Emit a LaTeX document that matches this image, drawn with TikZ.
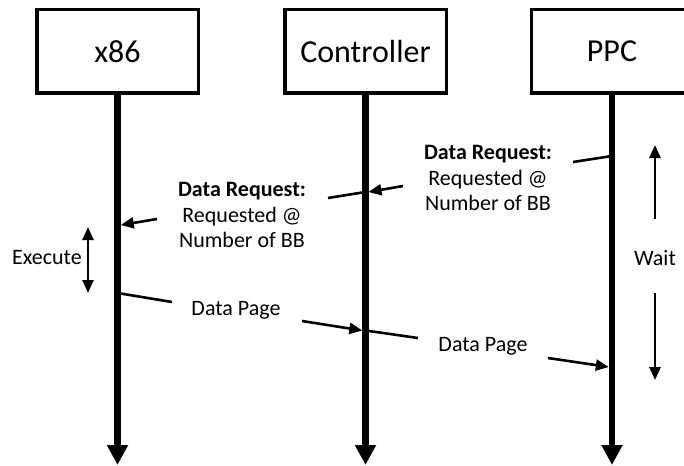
\documentclass[tikz,border=0pt]{standalone}
\usepackage{fontspec}
\setmainfont{Carlito}
\usetikzlibrary{arrows.meta}
\begin{document}
\begin{tikzpicture}[x=1pt,y=-1pt,
  actor/.style={draw,line width=3.5pt,minimum width=161.5pt,minimum height=83.5pt,inner sep=0pt,font=\fontsize{32}{38}\selectfont},
  life/.style={line width=6.5pt,-{Triangle[length=20pt,width=20pt]}},
  msg/.style={line width=2.6pt,-{Triangle[length=13pt,width=11pt]}},
  seg/.style={line width=2.6pt},
  lbl/.style={font=\fontsize{22}{25.5}\selectfont,align=center,inner sep=0pt},
  dur/.style={line width=2.6pt,-{Triangle[length=13pt,width=11pt]}},
  durboth/.style={line width=2.6pt,{Triangle[length=13pt,width=11pt]}-{Triangle[length=13pt,width=11pt]}}]
\useasboundingbox (0,0) rectangle (684,465);
\begin{scope}
\clip (0,0) rectangle (684,465);
% actors
\node[actor] (x86) at (117.5,51.5) {x86};
\node[actor] (ctl) at (365.5,51.5) {Controller};
\node[actor] (ppc) at (612,51.5) {PPC};
% lifeline ends
\coordinate (xe) at (117.5,465);
\coordinate (ce) at (365.5,465);
\coordinate (pe) at (612,465);
\draw[life] (x86.south) -- (xe);
\draw[life] (ctl.south) -- (ce);
\draw[life] (ppc.south) -- (pe);

% Data request PPC -> Controller
\coordinate (r1a) at (612,156);
\coordinate (r1b) at (573,162);
\coordinate (r1c) at (403,186);
\coordinate (r1d) at (368.5,192);
\draw[seg] (r1a) -- (r1b);
\node[lbl] (dr1) at (488,178) {\textbf{Data Request:}\\Requested @\\Number of BB};
\draw[msg] (r1c) -- (r1d);

% Data request Controller -> x86
\coordinate (r2a) at (365.5,192);
\coordinate (r2b) at (328,198);
\coordinate (r2c) at (157,219);
\coordinate (r2d) at (120.8,225);
\draw[seg] (r2a) -- (r2b);
\node[lbl] (dr2) at (242,215) {\textbf{Data Request:}\\Requested @\\Number of BB};
\draw[msg] (r2c) -- (r2d);

% Execute
\coordinate (ex1) at (88,227);
\coordinate (ex2) at (88,293);
\draw[durboth] (ex1) -- (ex2);
\node[lbl,anchor=east] (exl) at (82,258) {Execute};

% Data page x86 -> Controller
\coordinate (d1a) at (117.5,293);
\coordinate (d1b) at (172,302);
\coordinate (d1c) at (302,321);
\coordinate (d1d) at (362.3,330.5);
\draw[seg] (d1a) -- (d1b);
\node[lbl] (dp1) at (236,310) {Data Page};
\draw[msg] (d1c) -- (d1d);

% Data page Controller -> PPC
\coordinate (d2a) at (365.5,330.5);
\coordinate (d2b) at (418,338);
\coordinate (d2c) at (548,358);
\coordinate (d2d) at (608.8,367);
\draw[seg] (d2a) -- (d2b);
\node[lbl] (dp2) at (483,346) {Data Page};
\draw[msg] (d2c) -- (d2d);

% Wait
\coordinate (w1) at (655,219);
\coordinate (w2) at (655,145);
\coordinate (w3) at (655,293);
\coordinate (w4) at (655,380);
\draw[dur] (w1) -- (w2);
\draw[dur] (w3) -- (w4);
\node[lbl] (wl) at (655,258) {Wait};
\end{scope}
\end{tikzpicture}
\end{document}
